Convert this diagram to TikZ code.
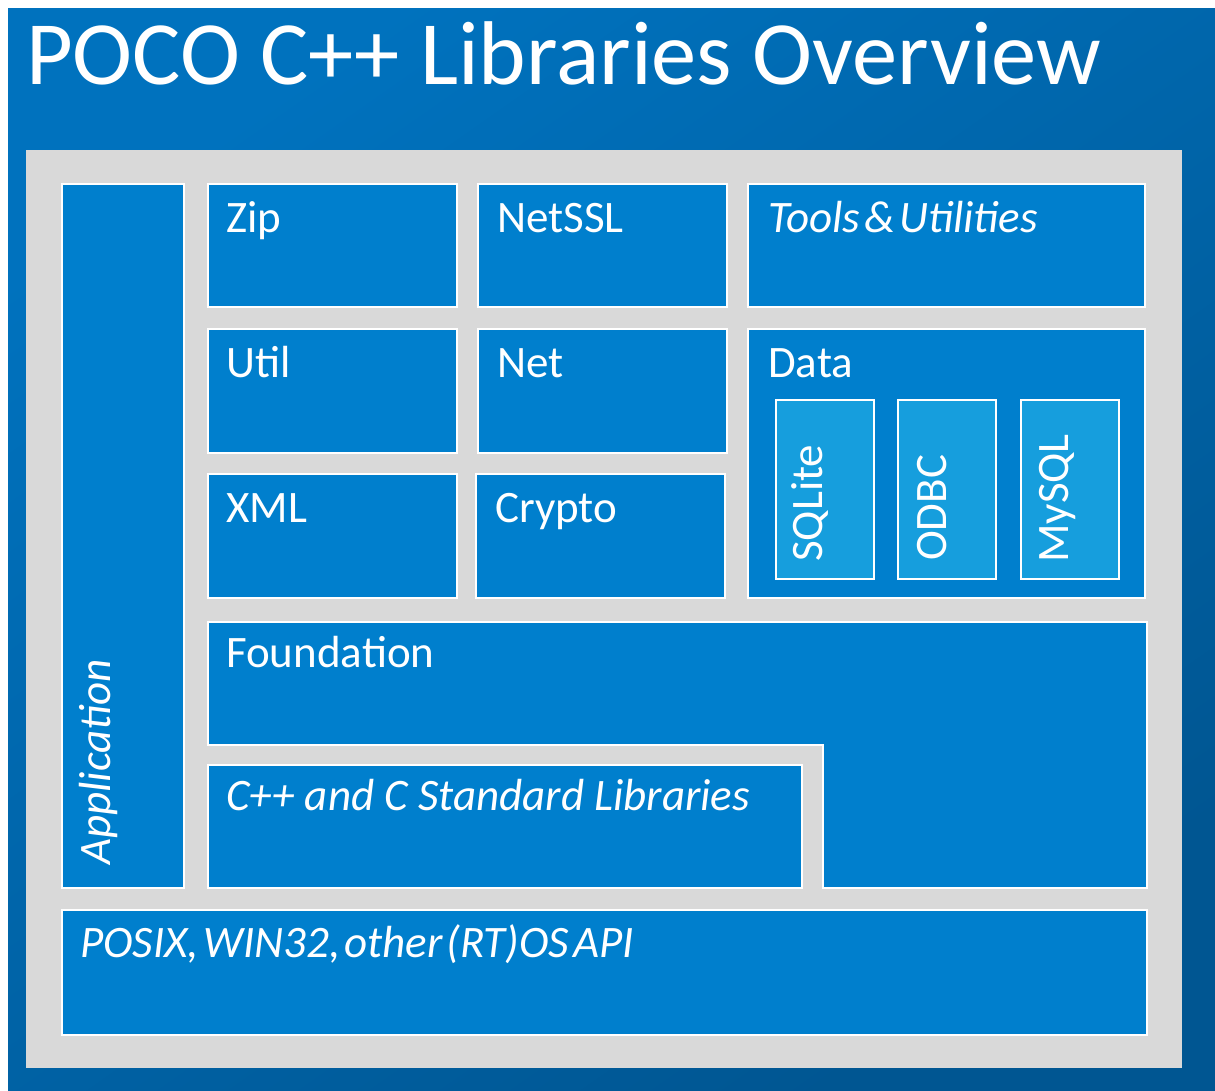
\documentclass[tikz,border=0pt]{standalone}
\usepackage{fontspec}
\setmainfont{Carlito}
\newfontfamily\itnarrow[WordSpace=0.4]{Carlito}
\definecolor{bgA}{RGB}{0,114,190}
\definecolor{bgB}{RGB}{0,86,146}
\definecolor{panel}{RGB}{217,217,217}
\definecolor{boxblue}{RGB}{0,127,205}
\definecolor{subblue}{RGB}{22,158,221}
\begin{document}
\begin{tikzpicture}[x=1pt,y=-1pt,
  box/.style={draw=white, line width=1.6pt, fill=boxblue, anchor=north west, inner sep=0pt, outer sep=0pt},
  subbox/.style={box, fill=subblue, minimum width=98pt, minimum height=179pt},
  lbl/.style={text=white, font=\fontsize{45}{50}\selectfont, inner sep=0pt, anchor=base west},
  ilbl/.style={lbl, font=\fontsize{45}{50}\selectfont\itshape},
  nlbl/.style={lbl, font=\itnarrow\fontsize{45}{50}\selectfont\itshape},
  vlbl/.style={lbl, rotate=90}]
\useasboundingbox (0,0) rectangle (1215,1090);
\fill[white] (0,0) rectangle (1215,1090);
\shade[top color=bgA, bottom color=bgB, shading angle=35] (8,8) rectangle (1215,1090);
\node[text=white, font=\fontsize{90.5}{98}\selectfont, inner sep=0pt, anchor=base west] (title) at (26,84) {POCO C++ Libraries Overview};
\fill[panel] (26,150) rectangle (1182,1068);
% boxes
\node[box, minimum width=122pt, minimum height=704pt] (app) at (62,184) {};
\node[box, minimum width=249pt, minimum height=123pt] (zip) at (208,184) {};
\node[box, minimum width=249pt, minimum height=123pt] (netssl) at (478,184) {};
\node[box, minimum width=397pt, minimum height=123pt] (tools) at (748,184) {};
\node[box, minimum width=249pt, minimum height=124pt] (util) at (208,329) {};
\node[box, minimum width=249pt, minimum height=124pt] (net) at (478,329) {};
\node[box, minimum width=249pt, minimum height=124pt] (xml) at (208,474) {};
\node[box, minimum width=249pt, minimum height=124pt] (crypto) at (476,474) {};
\node[box, minimum width=397pt, minimum height=269pt] (data) at (748,329) {};
\node[subbox] (sqlite) at (776,400) {};
\node[subbox] (odbc) at (898,400) {};
\node[subbox] (mysql) at (1021,400) {};
\draw[draw=white, line width=1.6pt, fill=boxblue] (208,622) -- (1147,622) -- (1147,888) -- (823,888) -- (823,745) -- (208,745) -- cycle;
\coordinate (found) at (208,622);
\node[box, minimum width=594pt, minimum height=123pt] (stdlib) at (208,765) {};
\node[box, minimum width=1085pt, minimum height=125pt] (posix) at (62,910) {};
% labels
\node[lbl] (zipT) at (226,232) {Zip};
\node[lbl] (netsslT) at (497,232) {NetSSL};
\node[nlbl] (toolsT) at (768,232) {Tools \& Utilities};
\node[lbl] (utilT) at (226,377) {Util};
\node[lbl] (netT) at (497,377) {Net};
\node[lbl] (dataT) at (768,377) {Data};
\node[lbl] (xmlT) at (226,522) {XML};
\node[lbl] (cryptoT) at (495,522) {Crypto};
\node[lbl] (foundT) at (226,667) {Foundation};
\node[ilbl] (stdlibT) at (226,810) {C++ and C Standard Libraries};
\node[nlbl] (posixT) at (80,957) {POSIX, WIN32, other (RT)OS API};
\node[ilbl, rotate=90] (appT) at (110,865) {Application};
\node[vlbl] (sqliteT) at (822,562) {SQLite};
\node[vlbl] (odbcT) at (946,561) {ODBC};
\node[vlbl] (mysqlT) at (1068,563) {MySQL};
\end{tikzpicture}
\end{document}
